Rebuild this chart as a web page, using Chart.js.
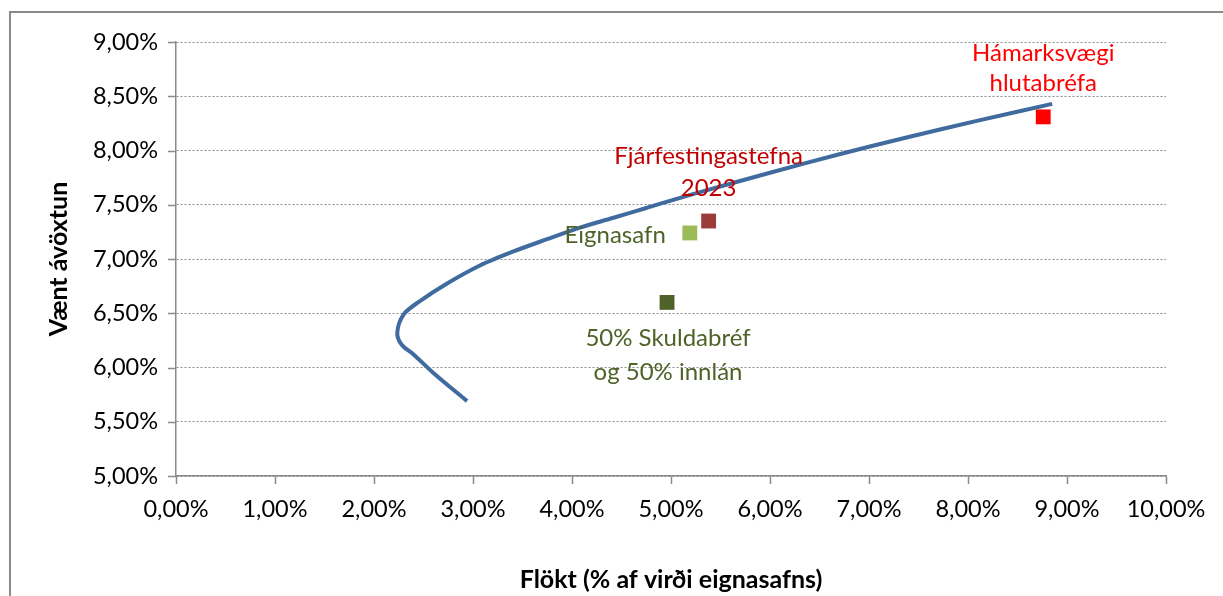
<!DOCTYPE html>
<html>
<head>
<meta charset="utf-8">
<script src="https://cdn.jsdelivr.net/npm/chart.js@4/dist/chart.umd.min.js"></script>
<style>
  body { margin: 0; background: #fff; }
  #wrap { position: relative; width: 1223px; height: 596px; overflow: hidden; }
  #frame { position: absolute; left: 9px; top: 11px; width: 1300px; height: 700px; border: 2px solid #8a8a8a; box-sizing: border-box; }
  #myChart { position: absolute; left: 0; top: 0; }
</style>
</head>
<body>
<div id="wrap">
  <div id="frame"></div>
  <canvas id="myChart" width="1223" height="596"></canvas>
</div>
<script>
// Skilvirkt jaðar (frontier) - flökt / vænt ávöxtun í %
const frontierX = [2.94, 2.60, 2.40, 2.28, 2.235, 2.30, 2.46, 2.73, 3.07, 3.41, 3.74, 4.08, 4.42, 4.75, 5.23, 6.00, 6.70, 7.40, 8.10, 8.85];
const frontierY = [5.69, 5.95, 6.12, 6.21, 6.32, 6.49, 6.61, 6.77, 6.94, 7.07, 7.18, 7.29, 7.38, 7.47, 7.60, 7.795, 7.965, 8.125, 8.275, 8.43];

// einstök söfn
const pointNames = ["Hámarksvægi hlutabréfa", "Fjárfestingastefna 2023", "Eignasafn", "50% Skuldabréf og 50% innlán"];
const pointX = [8.76, 5.38, 5.19, 4.96];
const pointY = [8.31, 7.35, 7.24, 6.60];
const pointColors = ["#ff0000", "#9b3b3a", "#9bbb59", "#4f6228"];
const labelLines = [["Hámarksvægi", "hlutabréfa"], ["Fjárfestingastefna", "2023"], ["Eignasafn"], ["50% Skuldabréf", "og 50% innlán"]];
const labelColors = ["#ff0000", "#c00000", "#4f6228", "#4f6228"];

const xTitle = "Flökt (% af virði eignasafns)";
const yTitle = "Vænt ávöxtun";

const FONT = "Lato, 'Open Sans', sans-serif";
const fmtPct = v => v.toFixed(2).replace('.', ',') + '%';

// staðsetning merkja miðað við punktinn (px)
const labelPlace = [
  { dx: 0, dy: [-64, -34], align: 'center' },
  { dx: 0, dy: [-65, -33], align: 'center' },
  { dx: -24, dy: [2], align: 'right' },
  { dx: 1, dy: [36, 70], align: 'center' },
];

const pointLabels = {
  id: 'pointLabels',
  afterDatasetsDraw(chart) {
    const ctx = chart.ctx;
    const xs = chart.scales.x, ys = chart.scales.y;
    ctx.save();
    ctx.font = "24px " + FONT;
    ctx.textBaseline = 'middle';
    for (let i = 0; i < pointNames.length; i++) {
      const px = xs.getPixelForValue(pointX[i]);
      const py = ys.getPixelForValue(pointY[i]);
      const p = labelPlace[i];
      ctx.fillStyle = labelColors[i];
      ctx.textAlign = p.align;
      labelLines[i].forEach((line, k) => {
        ctx.fillText(line, px + p.dx, py + p.dy[k]);
      });
    }
    ctx.restore();
  }
};

// tikk á y-ás (heil lína, gridlínur eru punktalínur)
const yTicks = {
  id: 'yTicks',
  afterDraw(chart) {
    const ctx = chart.ctx;
    const ys = chart.scales.y;
    const left = chart.chartArea.left;
    ctx.save();
    ctx.strokeStyle = '#8a8a8a';
    ctx.lineWidth = 1.5;
    ys.ticks.forEach(t => {
      const y = Math.round(ys.getPixelForValue(t.value)) + 0.5;
      ctx.beginPath();
      ctx.moveTo(left - 8, y);
      ctx.lineTo(left, y);
      ctx.stroke();
    });
    ctx.restore();
  }
};

const datasets = [{
  label: 'Jaðar',
  data: frontierX.map((x, i) => ({ x: x, y: frontierY[i] })),
  showLine: true,
  borderColor: '#3f6b9f',
  borderWidth: 4,
  pointRadius: 0,
  tension: 0.3,
  fill: false,
  order: 2,
}];
pointNames.forEach((name, i) => {
  datasets.push({
    label: name,
    data: [{ x: pointX[i], y: pointY[i] }],
    pointStyle: 'rect',
    pointRadius: 10.5,
    pointHoverRadius: 10.5,
    backgroundColor: pointColors[i],
    borderColor: pointColors[i],
    borderWidth: 0,
    order: 1,
  });
});

const ctx = document.getElementById('myChart').getContext('2d');
new Chart(ctx, {
  type: 'scatter',
  data: { datasets: datasets },
  options: {
    responsive: false,
    animation: false,
    layout: { padding: { left: 44, top: 42, right: 57, bottom: 0 } },
    plugins: {
      legend: { display: false },
      tooltip: { enabled: false },
    },
    scales: {
      x: {
        type: 'linear',
        min: 0, max: 10,
        ticks: { stepSize: 1, color: '#000', padding: 11, font: { family: FONT, size: 23.5 }, callback: v => fmtPct(v), maxRotation: 0 },
        grid: { drawOnChartArea: false, drawTicks: true, tickLength: 8, color: '#8a8a8a', tickWidth: 1.5 },
        border: { color: '#8a8a8a', width: 1.5 },
        title: { display: true, text: xTitle, color: '#000', font: { family: FONT, size: 25, weight: 'bold' }, padding: { top: 0, bottom: 1 } },
        afterFit: s => { s.height = 120; },
      },
      y: {
        type: 'linear',
        min: 5, max: 9,
        ticks: { stepSize: 0.5, color: '#000', padding: 18, font: { family: FONT, size: 23.5 }, callback: v => fmtPct(v) },
        grid: { color: '#8a8a8a', lineWidth: 1, drawTicks: false },
        border: { color: '#8a8a8a', width: 1.5, dash: [2, 2] },
        title: { display: true, text: yTitle, color: '#000', font: { family: FONT, size: 25, weight: 'bold' }, padding: { top: 0, bottom: 0 } },
        afterFit: s => { s.width = 132; },
      },
    },
  },
  plugins: [pointLabels, yTicks],
});
</script>
</body>
</html>
